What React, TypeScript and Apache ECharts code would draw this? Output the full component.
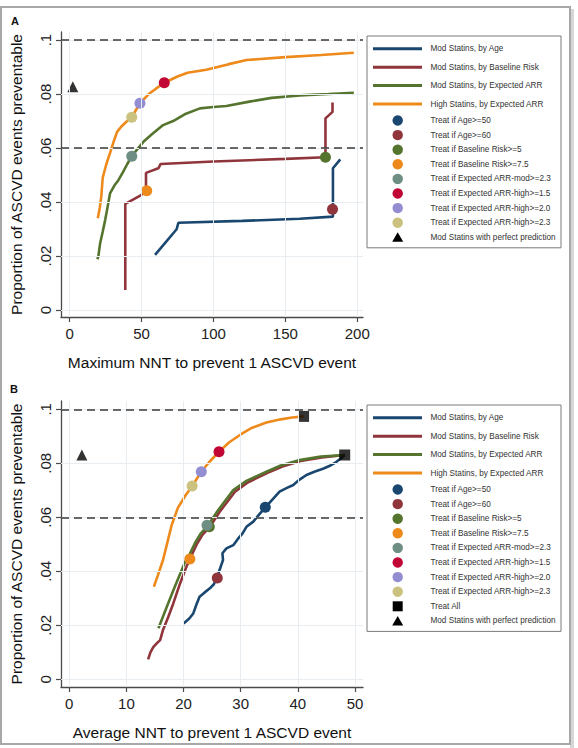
import React, { useEffect, useRef } from "react";
import * as echarts from "echarts";

const FONT = "'Liberation Sans', Arial, Helvetica, sans-serif";

// Curve names and colours (shared by both panels)
const lineNames = [
  "Mod Statins, by Age",
  "Mod Statins, by Baseline Risk",
  "Mod Statins, by Expected ARR",
  "High Statins, by Expected ARR",
];
const lineColors = ["#1a476f", "#90353b", "#55752f", "#ee8a1c"];

// Panel A: maximum NNT (x) vs proportion of ASCVD events preventable (y)
const maxNntByAge: [number, number][] = [
  [59.4, 0.0204], [74.4, 0.0299], [75.6, 0.0323], [120, 0.033], [160, 0.0338],
  [183.1, 0.0346], [183.1, 0.0525], [188.2, 0.0558],
];
const maxNntByRisk: [number, number][] = [
  [38.7, 0.0074], [38.7, 0.0393], [49.7, 0.0426], [53.1, 0.0442], [53.1, 0.0508],
  [61.7, 0.0525], [63.3, 0.0541], [100, 0.055], [150, 0.056], [177.9, 0.0566],
  [177.9, 0.071], [182.8, 0.0734], [182.8, 0.0769],
];
const maxNntByArrMod: [number, number][] = [
  [19.3, 0.0188], [20, 0.02], [21.2, 0.0247], [23, 0.029], [24.7, 0.0333], [26, 0.037],
  [28.1, 0.0432], [31, 0.046], [33.9, 0.0481], [37, 0.051], [40, 0.054], [43.2, 0.057],
  [47, 0.0595], [51.3, 0.0623], [57, 0.065], [65, 0.0685], [72, 0.07], [80, 0.0725],
  [90.6, 0.0747], [100, 0.0752], [109, 0.0756], [125, 0.0772], [140.4, 0.0786],
  [160, 0.0795], [180, 0.08], [197.6, 0.0805],
];
const maxNntByArrHigh: [number, number][] = [
  [19.6, 0.034], [21, 0.038], [22, 0.042], [23, 0.049], [25.5, 0.054], [28, 0.058],
  [31, 0.063], [33, 0.066], [36, 0.068], [40, 0.07], [43.2, 0.0714], [46, 0.074],
  [48.9, 0.0766], [55, 0.08], [60, 0.082], [65.8, 0.0842], [75, 0.0865], [82, 0.0879],
  [95, 0.089], [110, 0.091], [123, 0.0926], [150, 0.0937], [175, 0.0945], [197.6, 0.0953],
];

// Panel B: average NNT (x) vs proportion preventable (y)
const avgNntByAge: [number, number][] = [
  [20.0, 0.0207], [21.0, 0.0225], [21.7, 0.0244], [22.3, 0.028], [22.8, 0.0306],
  [23.7, 0.0322], [24.6, 0.0337], [25.3, 0.0352], [25.9, 0.0378], [26.3, 0.0405],
  [26.9, 0.0442], [26.8, 0.0467], [27.5, 0.0485], [28.7, 0.0497], [29.5, 0.052],
  [30.3, 0.054], [31.0, 0.0565], [32.2, 0.0584], [33.2, 0.061], [34.3, 0.0637],
  [35.5, 0.0665], [36.8, 0.0695], [38.0, 0.0708], [39.2, 0.072], [40.3, 0.074],
  [41.5, 0.0757], [43.0, 0.077], [44.4, 0.078], [45.5, 0.079], [46.7, 0.0805],
  [47.5, 0.0818], [48.2, 0.0831],
];
const avgNntByRisk: [number, number][] = [
  [13.8, 0.0074], [14.2, 0.01], [14.7, 0.0119], [15.3, 0.0133], [15.9, 0.0145],
  [16.4, 0.0183], [17.3, 0.023], [18.2, 0.0281], [19.3, 0.035], [20.5, 0.0417],
  [21.3, 0.0455], [22.3, 0.05], [23.3, 0.0535], [24.6, 0.0565], [26.3, 0.062],
  [29, 0.0695], [31.3, 0.073], [34.7, 0.0765], [37.3, 0.0788], [40.5, 0.0809],
  [44.2, 0.0822], [48.2, 0.0831],
];
const avgNntByArrMod: [number, number][] = [
  [15.6, 0.0189], [17, 0.0265], [18.5, 0.0345], [20.2, 0.0432], [21.1, 0.0465],
  [22, 0.0505], [23, 0.054], [24.3, 0.0571], [26, 0.0625], [28.7, 0.0701], [31, 0.0735],
  [34.5, 0.0769], [37, 0.0792], [40.3, 0.0812], [44, 0.0825], [48.2, 0.0831],
];
const avgNntByArrHigh: [number, number][] = [
  [14.8, 0.0343], [15.5, 0.0385], [16.4, 0.0442], [17.2, 0.051], [17.9, 0.057],
  [19, 0.0635], [20.3, 0.068], [21.5, 0.0716], [23.1, 0.0769], [24.5, 0.0805],
  [26.2, 0.0843], [28, 0.0878], [30, 0.0907], [32, 0.0932], [34.5, 0.0951],
  [37, 0.0963], [39, 0.097], [41, 0.0974],
];

// Treatment-threshold markers
const markerNames = [
  "Treat if Age>=50",
  "Treat if Age>=60",
  "Treat if Baseline Risk>=5",
  "Treat if Baseline Risk>=7.5",
  "Treat if Expected ARR-mod>=2.3",
  "Treat if Expected ARR-high>=1.5",
  "Treat if Expected ARR-high>=2.0",
  "Treat if Expected ARR-high>=2.3",
];
const markerColors = [
  "#1a476f", "#90353b", "#55752f", "#ee8a1c", "#6e8e84", "#c10534", "#938dd2", "#cac27e",
];
const maxNntMarkers: ([number, number] | null)[] = [
  null, [182.8, 0.0373], [177.9, 0.0566], [53.6, 0.0442], [43.2, 0.057],
  [65.8, 0.0842], [48.9, 0.0766], [43.2, 0.0714],
];
const avgNntMarkers: ([number, number] | null)[] = [
  [34.3, 0.0637], [25.9, 0.0375], [24.5, 0.0565], [21.1, 0.0446], [24.1, 0.0571],
  [26.2, 0.0843], [23.1, 0.0769], [21.5, 0.0716],
];
const treatAllName = "Treat All";
const avgNntTreatAll: [number, number][] = [[41.0, 0.0974], [48.2, 0.0831]];
const perfectName = "Mod Statins with perfect prediction";
const maxNntPerfect: [number, number][] = [[2.2, 0.0827]];
const avgNntPerfect: [number, number][] = [[2.2, 0.0831]];

// Dashed reference levels
const refLevels = [0.1, 0.057];

// Axis ticks
const maxNntTicks = [0, 50, 100, 150, 200];
const avgNntTicks = [0, 10, 20, 30, 40, 50];
const propTicks = [0, 0.02, 0.04, 0.06, 0.08, 0.1];
const propTickLabels = ["0", ".02", ".04", ".06", ".08", ".1"];

const AXIS_COLOR = "#4a4a4a";
const GRID_COLOR = "#e7edf0";

function xAxisFor(gridIndex: number, min: number, max: number, ticks: number[], name: string) {
  return {
    gridIndex,
    type: "value",
    min,
    max,
    name,
    nameLocation: "middle",
    nameGap: 37,
    nameTextStyle: { fontSize: 15.5, color: "#111", fontFamily: FONT },
    axisLine: { show: true, onZero: false, lineStyle: { color: AXIS_COLOR, width: 1.3 } },
    axisTick: { show: true, customValues: ticks, length: 5, lineStyle: { color: AXIS_COLOR, width: 1.2 } },
    axisLabel: { customValues: ticks, margin: 9, fontSize: 15, color: "#222", fontFamily: FONT },
    splitLine: { show: false },
  };
}

function yAxisFor(gridIndex: number, min: number, max: number) {
  return {
    gridIndex,
    type: "value",
    min,
    max,
    name: "Proportion of ASCVD events preventable",
    nameLocation: "middle",
    nameGap: 37,
    nameTextStyle: { fontSize: 15.5, color: "#111", fontFamily: FONT },
    axisLine: { show: true, onZero: false, lineStyle: { color: AXIS_COLOR, width: 1.3 } },
    axisTick: { show: true, customValues: propTicks, length: 5, lineStyle: { color: AXIS_COLOR, width: 1.2 } },
    axisLabel: {
      customValues: propTicks,
      rotate: 90,
      margin: 8,
      fontSize: 15,
      color: "#222",
      fontFamily: FONT,
      formatter: (v: number) => propTickLabels[Math.round(v / 0.02)] ?? "",
    },
    splitLine: { show: false },
  };
}

function panelSeries(
  idx: number,
  xTicks: number[],
  curves: [number, number][][],
  markers: ([number, number] | null)[],
  perfect: [number, number][],
  treatAll: [number, number][] | null,
) {
  const axes = { xAxisIndex: idx, yAxisIndex: idx };
  const out: any[] = [];
  // light grid lines
  out.push({
    type: "line",
    ...axes,
    data: [],
    silent: true,
    z: 1,
    markLine: {
      silent: true,
      symbol: ["none", "none"],
      label: { show: false },
      lineStyle: { color: GRID_COLOR, width: 1, type: "solid" },
      data: [...xTicks.map((v) => ({ xAxis: v })), ...propTicks.map((v) => ({ yAxis: v }))],
    },
  });
  // dashed reference lines
  out.push({
    type: "line",
    ...axes,
    data: [],
    silent: true,
    z: 2,
    markLine: {
      silent: true,
      symbol: ["none", "none"],
      label: { show: false },
      lineStyle: { color: "#3a3a3a", width: 1.5, type: [8, 5] },
      data: refLevels.map((v) => ({ yAxis: v })),
    },
  });
  curves.forEach((pts, i) => {
    out.push({
      type: "line",
      name: lineNames[i],
      ...axes,
      data: pts,
      showSymbol: false,
      symbol: "none",
      z: 3,
      lineStyle: { color: lineColors[i], width: 2.6 },
      itemStyle: { color: lineColors[i] },
    });
  });
  markers.forEach((p, i) => {
    if (!p) return;
    out.push({
      type: "scatter",
      name: markerNames[i],
      ...axes,
      data: [p],
      symbol: "circle",
      symbolSize: 11,
      z: 4,
      itemStyle: { color: markerColors[i], opacity: 1 },
    });
  });
  if (treatAll) {
    out.push({
      type: "scatter",
      name: treatAllName,
      ...axes,
      data: treatAll,
      symbol: "rect",
      symbolSize: 11,
      z: 4,
      itemStyle: { color: "#000" },
    });
  }
  out.push({
    type: "scatter",
    name: perfectName,
    ...axes,
    data: perfect,
    symbol: "triangle",
    symbolSize: 11,
    z: 4,
    itemStyle: { color: "#000" },
  });
  return out;
}

// Boxed key drawn beside each panel
function legendGraphics(top: number, withTreatAll: boolean) {
  const left = 367;
  const right = 561;
  const iconCx = 397.7;
  const textX = 430.5;
  const els: any[] = [];
  const text = (y: number, t: string) => ({
    type: "text",
    x: textX,
    y,
    silent: true,
    style: { text: t, fontSize: 8.2, fill: "#333", fontFamily: FONT, verticalAlign: "middle", align: "left" },
  });
  lineNames.forEach((n, i) => {
    const y = top + 12.8 + 18.4 * i;
    els.push({
      type: "line",
      silent: true,
      shape: { x1: 373, y1: y, x2: 422, y2: y },
      style: { stroke: lineColors[i], lineWidth: 3 },
    });
    els.push(text(y, n));
  });
  let row = 0;
  const rowY = () => top + 84.5 + 14.6 * row;
  markerNames.forEach((n, i) => {
    const y = rowY();
    els.push({ type: "circle", silent: true, shape: { cx: iconCx, cy: y, r: 5.2 }, style: { fill: markerColors[i] } });
    els.push(text(y, n));
    row++;
  });
  if (withTreatAll) {
    const y = rowY();
    els.push({ type: "rect", silent: true, shape: { x: iconCx - 5, y: y - 5, width: 10, height: 10 }, style: { fill: "#000" } });
    els.push(text(y, treatAllName));
    row++;
  }
  {
    const y = rowY();
    els.push({
      type: "polygon",
      silent: true,
      shape: { points: [[iconCx, y - 5], [iconCx + 5.5, y + 4.5], [iconCx - 5.5, y + 4.5]] },
      style: { fill: "#000" },
    });
    els.push(text(y, perfectName));
  }
  const bottom = rowY() + 10.5;
  els.unshift({
    type: "rect",
    silent: true,
    shape: { x: left, y: top, width: right - left, height: bottom - top },
    style: { fill: "#fff", stroke: "#7a7a7a", lineWidth: 1 },
  });
  return els;
}

export default function App() {
  const ref = useRef<HTMLDivElement>(null);

  useEffect(() => {
    if (!ref.current) return;
    const chart = echarts.init(ref.current, undefined, { renderer: "svg" });
    const option: any = {
      animation: false,
      backgroundColor: "#fff",
      grid: [
        { left: 61, top: 32, width: 302, height: 285 },
        { left: 61, top: 401, width: 302, height: 286 },
      ],
      xAxis: [
        xAxisFor(0, -6, 204, maxNntTicks, "Maximum NNT to prevent 1 ASCVD event"),
        xAxisFor(1, -1.45, 51.4, avgNntTicks, "Average NNT to prevent 1 ASCVD event"),
      ],
      yAxis: [yAxisFor(0, -0.0026, 0.103), yAxisFor(1, -0.00285, 0.1031)],
      series: [
        ...panelSeries(0, maxNntTicks, [maxNntByAge, maxNntByRisk, maxNntByArrMod, maxNntByArrHigh], maxNntMarkers, maxNntPerfect, null),
        ...panelSeries(1, avgNntTicks, [avgNntByAge, avgNntByRisk, avgNntByArrMod, avgNntByArrHigh], avgNntMarkers, avgNntPerfect, avgNntTreatAll),
      ],
      graphic: [
        // outer frame
        { type: "rect", silent: true, shape: { x: 570, y: 9, width: 4, height: 739 }, style: { fill: "#d6d6d6" } },
        { type: "rect", silent: true, shape: { x: 1, y: 7, width: 569, height: 737 }, style: { fill: "none", stroke: "#a8a8a8", lineWidth: 2 } },
        { type: "text", x: 15, y: 21, silent: true, style: { text: "A", fontSize: 11, fontWeight: "bold", fill: "#111", fontFamily: FONT, align: "center", verticalAlign: "middle" } },
        { type: "text", x: 14, y: 388.5, silent: true, style: { text: "B", fontSize: 11, fontWeight: "bold", fill: "#111", fontFamily: FONT, align: "center", verticalAlign: "middle" } },
        ...legendGraphics(36, false),
        ...legendGraphics(405, true),
      ],
    };
    chart.setOption(option);
    return () => chart.dispose();
  }, []);

  return (
    <div
      ref={ref}
      style={{ position: "fixed", left: 0, top: 0, width: 578, height: 748, background: "#fff" }}
    />
  );
}
